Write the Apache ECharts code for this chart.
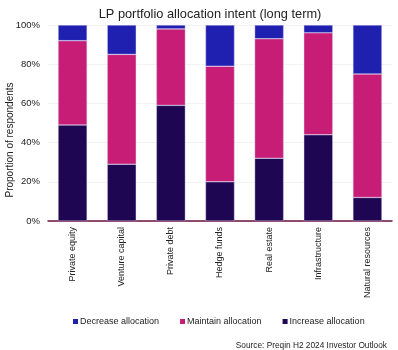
<!DOCTYPE html>
<html>
<head>
<meta charset="utf-8">
<script src="https://cdn.jsdelivr.net/npm/echarts@6/dist/echarts.min.js"></script>
<style>
html, body { margin: 0; padding: 0; background: #fff; }
#chart { width: 398px; height: 350px; }
</style>
</head>
<body>
<div id="chart"></div>
<script>
var categories = ['Private equity', 'Venture capital', 'Private debt', 'Hedge funds', 'Real estate', 'Infrastructure', 'Natural resources'];
var increaseVals = [49, 29, 59, 20, 32, 44, 12];
var maintainVals = [43, 56, 39, 59, 61, 52, 63];
var decreaseVals = [8, 15, 2, 21, 7, 4, 25];
var yTicks = [0, 20, 40, 60, 80, 100];

var myChart = echarts.init(document.getElementById('chart'), null, { renderer: 'canvas' });
var font = 'Liberation Sans, Arial, sans-serif';

var barStyle = function (color) {
    return {
        color: color,
        borderColor: 'rgba(220,210,240,0.8)',
        borderWidth: 0.5
    };
};

option = {
    animation: false,
    textStyle: { fontFamily: font },
    title: [{
        text: 'LP portfolio allocation intent (long term)',
        left: 205,
        top: 3,
        textAlign: 'center',
        textStyle: { fontSize: 12.8, fontWeight: 'normal', color: '#222', fontFamily: font }
    }, {
        text: 'Source: Preqin H2 2024 Investor Outlook',
        right: 6,
        top: 337,
        textStyle: { fontSize: 8.3, fontWeight: 'normal', color: '#222', fontFamily: font }
    }],
    legend: {
        data: ['Decrease allocation', 'Maintain allocation', 'Increase allocation'],
        top: 312,
        left: 68,
        width: 330,
        itemWidth: 5,
        itemHeight: 5,
        itemGap: 21,
        icon: 'rect',
        itemStyle: { borderWidth: 0 },
        textStyle: { fontSize: 9, color: '#222', fontFamily: font, padding: [0, 0, 0, -3] }
    },
    grid: { left: 48, right: 6, top: 25, bottom: 129, outerBoundsMode: 'none' },
    xAxis: {
        type: 'category',
        data: categories,
        axisLine: { lineStyle: { color: '#6e1040', width: 1.5 } },
        axisTick: { show: false },
        axisLabel: { rotate: 90, fontSize: 9, color: '#222', margin: 6, fontFamily: font }
    },
    yAxis: {
        type: 'value',
        min: 0,
        max: 100,
        interval: 20,
        name: 'Proportion of respondents',
        nameLocation: 'middle',
        nameGap: 33,
        nameMoveOverlap: false,
        nameTextStyle: { fontSize: 10, color: '#222', fontFamily: font, padding: [0, 34, 0, 0] },
        axisLine: { show: false },
        axisTick: { show: false },
        splitLine: { lineStyle: { color: '#f2f2f2', width: 1 } },
        axisLabel: {
            fontSize: 9.5, color: '#222', fontFamily: font, margin: 8,
            formatter: function (v) { return yTicks.indexOf(v) >= 0 ? v + '%' : ''; }
        }
    },
    series: [{
        name: 'Increase allocation',
        type: 'bar',
        stack: 'all',
        barWidth: '59%',
        itemStyle: barStyle('#1e0653'),
        data: increaseVals
    }, {
        name: 'Maintain allocation',
        type: 'bar',
        stack: 'all',
        itemStyle: barStyle('#c81d77'),
        data: maintainVals
    }, {
        name: 'Decrease allocation',
        type: 'bar',
        stack: 'all',
        itemStyle: barStyle('#2020b0'),
        data: decreaseVals
    }]
};
myChart.setOption(option);
</script>
</body>
</html>
